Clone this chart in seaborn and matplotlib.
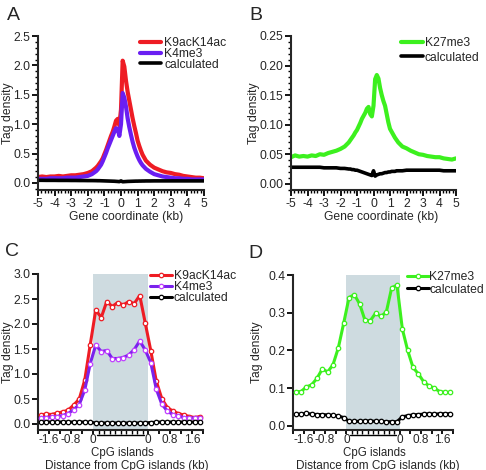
import numpy as np
import matplotlib
matplotlib.use("Agg")
import matplotlib.pyplot as plt
import matplotlib.transforms as mtransforms
import seaborn as sns

# ------------------------------------------------------------------ #
#  Data                                  #
# ------------------------------------------------------------------ #

# gene coordinate (kb), panels A and B
gene_x = [-5.0, -4.75, -4.5, -4.25, -4.0, -3.75, -3.5, -3.25, -3.0, -2.75,
          -2.5, -2.25, -2.0, -1.75, -1.5,
          -1.4, -1.3, -1.2, -1.1, -1.0, -0.9, -0.8, -0.7, -0.6, -0.5,
          -0.4, -0.3, -0.2, -0.1, 0.0, 0.1, 0.2, 0.3, 0.4, 0.5,
          0.6, 0.7, 0.8, 0.9, 1.0, 1.1, 1.2, 1.3, 1.4,
          1.5, 1.75, 2.0, 2.25, 2.5, 2.75, 3.0, 3.25, 3.5, 3.75,
          4.0, 4.25, 4.5, 4.75, 5.0]

a_k9k14 = [0.10, 0.11, 0.10, 0.11, 0.11, 0.12, 0.11, 0.12, 0.13, 0.13,
           0.14, 0.15, 0.17, 0.20, 0.26,
           0.29, 0.33, 0.37, 0.42, 0.49, 0.56, 0.64, 0.72, 0.80, 0.87,
           0.96, 1.06, 1.09, 0.98, 1.25, 2.08, 1.98, 1.74, 1.55, 1.40,
           1.25, 1.10, 0.97, 0.85, 0.72, 0.63, 0.55, 0.48, 0.43,
           0.38, 0.31, 0.26, 0.23, 0.20, 0.18, 0.17, 0.15, 0.14, 0.12,
           0.11, 0.10, 0.09, 0.09, 0.08]
a_k4me3 = [0.07, 0.07, 0.07, 0.08, 0.08, 0.08, 0.08, 0.09, 0.09, 0.09,
           0.10, 0.11, 0.12, 0.15, 0.20,
           0.23, 0.27, 0.31, 0.37, 0.44, 0.51, 0.59, 0.66, 0.73, 0.80,
           0.87, 0.93, 0.92, 0.80, 1.00, 1.53, 1.45, 1.30, 1.10, 0.95,
           0.82, 0.70, 0.60, 0.52, 0.45, 0.39, 0.34, 0.30, 0.27,
           0.24, 0.19, 0.15, 0.13, 0.11, 0.10, 0.09, 0.08, 0.08, 0.07,
           0.07, 0.06, 0.06, 0.06, 0.06]
a_calc = [0.045, 0.045, 0.044, 0.044, 0.044, 0.043, 0.043, 0.043, 0.042, 0.042,
          0.041, 0.041, 0.040, 0.040, 0.039,
          0.038, 0.038, 0.037, 0.036, 0.035, 0.034, 0.033, 0.032, 0.031, 0.030,
          0.029, 0.027, 0.025, 0.022, 0.035, 0.020, 0.022, 0.024, 0.026, 0.027,
          0.028, 0.029, 0.030, 0.031, 0.031, 0.032, 0.032, 0.033, 0.033,
          0.034, 0.034, 0.035, 0.035, 0.035, 0.035, 0.035, 0.035, 0.035, 0.035,
          0.035, 0.035, 0.035, 0.035, 0.035]

b_k27me3 = [0.045, 0.048, 0.046, 0.047, 0.046, 0.048, 0.047, 0.050, 0.049, 0.052,
            0.054, 0.056, 0.059, 0.063, 0.070,
            0.074, 0.078, 0.082, 0.087, 0.091, 0.097, 0.103, 0.110, 0.115, 0.120,
            0.127, 0.130, 0.118, 0.114, 0.132, 0.177, 0.184, 0.178, 0.162, 0.150,
            0.140, 0.132, 0.118, 0.104, 0.093, 0.088, 0.083, 0.078, 0.074,
            0.070, 0.063, 0.060, 0.056, 0.053, 0.050, 0.049, 0.047, 0.046, 0.045,
            0.045, 0.043, 0.042, 0.041, 0.043]
b_calc = [0.028, 0.028, 0.028, 0.028, 0.028, 0.028, 0.028, 0.028, 0.027, 0.027,
          0.027, 0.027, 0.026, 0.026, 0.025,
          0.025, 0.024, 0.024, 0.023, 0.023, 0.022, 0.021, 0.020, 0.019, 0.018,
          0.017, 0.016, 0.015, 0.014, 0.022, 0.013, 0.015, 0.016, 0.017, 0.017,
          0.018, 0.019, 0.019, 0.020, 0.020, 0.021, 0.021, 0.021, 0.022,
          0.022, 0.022, 0.023, 0.023, 0.023, 0.023, 0.023, 0.023, 0.023, 0.023,
          0.023, 0.022, 0.022, 0.022, 0.022]

# CpG island profiles, panels C and D
# flank bins -1.9..-0.1 kb, 10 scaled island bins (0..2), flank bins 0.1..1.9 kb (2.1..3.9)
cpg_x = [-1.9, -1.7, -1.5, -1.3, -1.1, -0.9, -0.7, -0.5, -0.3, -0.1,
         0.1, 0.3, 0.5, 0.7, 0.9, 1.1, 1.3, 1.5, 1.7, 1.9,
         2.1, 2.3, 2.5, 2.7, 2.9, 3.1, 3.3, 3.5, 3.7, 3.9]

c_k9k14 = [0.18, 0.20, 0.19, 0.22, 0.24, 0.28, 0.38, 0.50, 0.88, 1.59,
           2.28, 2.13, 2.45, 2.35, 2.43, 2.38, 2.45, 2.41, 2.57, 2.02,
           1.47, 0.86, 0.51, 0.33, 0.26, 0.21, 0.18, 0.15, 0.13, 0.15]
c_k4me3 = [0.13, 0.13, 0.14, 0.15, 0.17, 0.21, 0.29, 0.39, 0.68, 1.21,
           1.58, 1.45, 1.47, 1.31, 1.31, 1.33, 1.38, 1.49, 1.66, 1.48,
           1.23, 0.70, 0.40, 0.26, 0.19, 0.16, 0.13, 0.12, 0.12, 0.12]
c_calc = [0.04, 0.04, 0.04, 0.04, 0.04, 0.04, 0.04, 0.04, 0.04, 0.035,
          0.02, 0.02, 0.02, 0.02, 0.02, 0.02, 0.02, 0.02, 0.02, 0.02,
          0.03, 0.035, 0.04, 0.04, 0.04, 0.04, 0.04, 0.04, 0.04, 0.04]

d_k27me3 = [0.091, 0.091, 0.103, 0.109, 0.126, 0.151, 0.143, 0.162, 0.207, 0.272,
            0.340, 0.348, 0.323, 0.280, 0.279, 0.299, 0.290, 0.302, 0.366, 0.373,
            0.257, 0.200, 0.155, 0.138, 0.117, 0.106, 0.100, 0.091, 0.089, 0.089]
d_calc = [0.031, 0.031, 0.033, 0.031, 0.030, 0.030, 0.029, 0.028, 0.026, 0.022,
          0.012, 0.012, 0.012, 0.013, 0.013, 0.012, 0.012, 0.011, 0.011, 0.011,
          0.024, 0.027, 0.029, 0.030, 0.031, 0.032, 0.031, 0.032, 0.032, 0.032]

cpg_tick_pos = [-2.0, -1.6, -1.2, -0.8, -0.4, 0.0, 2.0, 2.4, 2.8, 3.2, 3.6, 4.0]
cpg_tick_lab = ["", "-1.6", "", "-0.8", "", "0", "0", "", "0.8", "", "1.6", ""]

RED = "#ee1c24"
VIOLET = "#6a1ef2"
PURPLE = "#7a22ec"
MAGENTA = "#c040ff"
GREEN = "#3cf01e"
SHADE = "#cedbe0"

# ------------------------------------------------------------------ #
#  Figure setup                                                        #
# ------------------------------------------------------------------ #

sns.set_style("ticks")
plt.rcParams['font.family'] = ['Liberation Sans', 'DejaVu Sans']
plt.rcParams['font.size'] = 8.7

W, H = 486, 470
FS = 8.7
fig = plt.figure(figsize=(W / 100, H / 100), dpi=100)


def add_axes_px(left, right, top, bottom):
    return fig.add_axes([left / W, 1 - bottom / H, (right - left) / W, (bottom - top) / H])


def style_axes(ax):
    sns.despine(ax=ax)
    for side in ("left", "bottom"):
        ax.spines[side].set_linewidth(1.5)
    ax.tick_params(which="major", direction="out", length=4, width=1.3,
                   pad=1.5, labelsize=FS, color="black")
    ax.tick_params(which="minor", direction="out", length=2.5, width=1.0, color="black")


def fig_text(x, y, s, **kw):
    fig.text(x / W, 1 - y / H, s, ha="center", va="center", **kw)


def add_legend(ax, x, y, spacing, hlen, pad=0.1):
    ax.legend(loc="upper left", bbox_to_anchor=(x / W, 1 - y / H),
              bbox_transform=fig.transFigure, frameon=False, borderpad=0,
              borderaxespad=0, handlelength=hlen, handletextpad=pad,
              labelspacing=spacing, numpoints=1, fontsize=FS)


# ---------------- Panel A ----------------
axA = add_axes_px(38, 204, 36, 190)
sns.lineplot(x=gene_x, y=a_k9k14, ax=axA, color=RED, lw=3.0, label="K9acK14ac")
sns.lineplot(x=gene_x, y=a_k4me3, ax=axA, color=VIOLET, lw=3.0, label="K4me3")
sns.lineplot(x=gene_x, y=a_calc, ax=axA, color="black", lw=2.6, label="calculated")
axA.set_xlim(-5, 5)
axA.set_ylim(-0.12, 2.5)
axA.set_xticks(np.arange(-5, 6, 1))
axA.set_xticklabels([str(v) for v in range(-5, 6)])
axA.set_yticks(np.arange(0, 2.51, 0.5))
axA.set_yticklabels(["0.0", "0.5", "1.0", "1.5", "2.0", "2.5"])
axA.xaxis.set_minor_locator(matplotlib.ticker.MultipleLocator(0.2))
axA.yaxis.set_minor_locator(matplotlib.ticker.MultipleLocator(0.1))
style_axes(axA)
add_legend(axA, 140, 37, -0.1, 1.7, pad=0.3)

# ---------------- Panel B ----------------
axB = add_axes_px(291, 456, 36, 190)
sns.lineplot(x=gene_x, y=b_k27me3, ax=axB, color=GREEN, lw=3.0, label="K27me3")
sns.lineplot(x=gene_x, y=b_calc, ax=axB, color="black", lw=2.6, label="calculated")
axB.set_xlim(-5, 5)
axB.set_ylim(-0.0105, 0.25)
axB.set_xticks(np.arange(-5, 6, 1))
axB.set_xticklabels([str(v) for v in range(-5, 6)])
axB.set_yticks([0, 0.05, 0.10, 0.15, 0.20, 0.25])
axB.set_yticklabels(["0.00", "0.05", "0.10", "0.15", "0.20", "0.25"])
axB.xaxis.set_minor_locator(matplotlib.ticker.MultipleLocator(0.2))
axB.yaxis.set_minor_locator(matplotlib.ticker.MultipleLocator(0.01))
style_axes(axB)
add_legend(axB, 401, 37, 0.22, 1.85, pad=0.1)

# ---------------- Panels C and D ----------------
def cpg_panel(ax, series, ylim, yticks, ylabels):
    ax.axvspan(0, 2, color=SHADE, lw=0, zorder=0)
    for vals, col, mec, lab in series:
        sns.lineplot(x=cpg_x, y=vals, ax=ax, color=col, lw=2.2, marker="o",
                     markersize=3.2, markerfacecolor="white", markeredgecolor=mec,
                     markeredgewidth=0.9, label=lab, zorder=3)
    ax.set_xlim(-2.0, 4.0)
    ax.set_ylim(*ylim)
    ax.set_xticks(cpg_tick_pos)
    ax.set_xticklabels(cpg_tick_lab)
    ax.set_xticks([0.2, 0.4, 0.6, 0.8, 1.0, 1.2, 1.4, 1.6, 1.8], minor=True)
    ax.set_yticks(yticks)
    ax.set_yticklabels(ylabels)
    style_axes(ax)
    ax.tick_params(axis="x", which="major", length=3, pad=0, labelsize=8.5)
    ax.tick_params(axis="x", which="minor", length=3)
    # bracket joining the two island edges
    trans = mtransforms.blended_transform_factory(ax.transData, fig.transFigure)
    ax.plot([0.15, 1.85], [1 - 435 / H, 1 - 435 / H], color="black", lw=1.0,
            transform=trans, clip_on=False)


axC = add_axes_px(38, 203, 274, 430)
cpg_panel(axC,
          [(c_k9k14, RED, RED, "K9acK14ac"),
           (c_k4me3, PURPLE, MAGENTA, "K4me3"),
           (c_calc, "black", "black", "calculated")],
          (-0.12, 3.0), [0, 0.5, 1.0, 1.5, 2.0, 2.5, 3.0],
          ["0.0", "0.5", "1.0", "1.5", "2.0", "2.5", "3.0"])
add_legend(axC, 150, 270, -0.07, 1.85, pad=0.1)

axD = add_axes_px(293, 453, 275, 430)
cpg_panel(axD,
          [(d_k27me3, GREEN, GREEN, "K27me3"),
           (d_calc, "black", "black", "calculated")],
          (-0.011, 0.4), [0, 0.1, 0.2, 0.3, 0.4],
          ["0.0", "0.1", "0.2", "0.3", "0.4"])
add_legend(axD, 407, 271, 0.06, 1.85, pad=0.0)

# ---------------- labels ----------------
for x, y, s in [(13, 15, "A"), (256, 15, "B"), (12, 252, "C"), (255, 253, "D")]:
    fig_text(x, y, s, fontsize=14)

for x, y in [(8, 113), (254, 113), (8, 352), (257, 352)]:
    fig_text(x, y, "Tag density", rotation=90, fontsize=FS)

fig_text(126, 217, "Gene coordinate (kb)", fontsize=FS)
fig_text(381, 217, "Gene coordinate (kb)", fontsize=FS)
fig_text(122, 453, "CpG islands", fontsize=8.3)
fig_text(127, 465.5, "Distance from CpG islands (kb)", fontsize=8.5)
fig_text(374, 453, "CpG islands", fontsize=8.3)
fig_text(378, 465.5, "Distance from CpG islands (kb)", fontsize=8.5)

fig.savefig("out.png", dpi=100)
